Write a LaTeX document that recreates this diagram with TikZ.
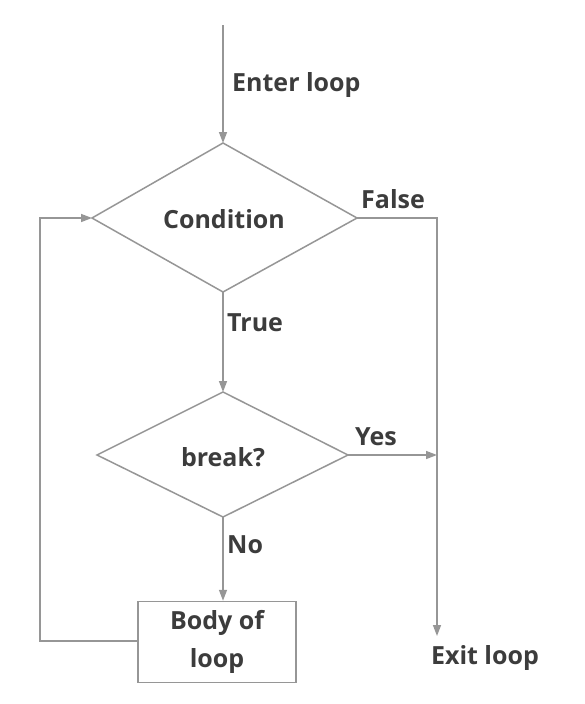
\documentclass[tikz,border=0pt]{standalone}
\usepackage{fontspec}
\setmainfont{Open Sans}
\usetikzlibrary{arrows.meta,shapes.geometric}
\definecolor{lc}{RGB}{150,150,150}
\definecolor{tc}{RGB}{60,60,60}
\tikzset{
  line/.style={draw=lc, line width=1.5pt},
  arr/.style={line, -{Triangle[length=11pt,width=8pt]}},
  lbl/.style={text=tc, font=\fontsize{25}{30}\selectfont\bfseries, inner sep=0pt},
  boxs/.style={rectangle, draw=lc, line width=1.5pt, minimum width=158pt, minimum height=81pt, text=tc, align=center, font=\fontsize{25}{38}\selectfont\bfseries}
}
\begin{document}
\begin{tikzpicture}[x=1pt,y=-1pt]
\useasboundingbox (0,0) rectangle (584,704);
% shapes
\path[line] (223,143) -- (357,218) -- (223,292) -- (92,218) -- cycle;
\node[lbl] (cond) at (224,219) {Condition};
\coordinate (ct) at (223,143);
\coordinate (cl) at (92,218);
\coordinate (cr) at (357,218);
\coordinate (cb) at (223,292);
\path[line] (223,392) -- (348,455) -- (223,517) -- (97,455) -- cycle;
\node[lbl] (brk) at (223,457) {break?};
\coordinate (bt) at (223,392);
\coordinate (br) at (348,455);
\coordinate (bb) at (223,517);
\node[boxs] (body) at (217,642) {Body of\\loop};
% start
\coordinate (start) at (223,25);
\coordinate (exit) at (437,636);
\coordinate (fcorner) at (437,218);
\coordinate (ymeet) at (437,455);
\coordinate (lb) at (40,641);
\coordinate (lt) at (40,218);
% connectors
\draw[arr] (start) -- (ct);
\draw[arr] (cb) -- (bt);
\draw[arr] (bb) -- (bb |- body.north);
\draw[arr] (cr) -- (fcorner) -- (exit);
\draw[arr] (br) -- (ymeet);
\draw[arr] (body.west |- lb) -- (lb) -- (lt) -- (cl);
% labels
\node[lbl, anchor=west] (enter) at (232,85) {Enter loop};
\node[lbl, anchor=west] (false) at (361,199) {False};
\node[lbl, anchor=west] (true) at (227,323) {True};
\node[lbl, anchor=west] (yes) at (355,437) {Yes};
\node[lbl, anchor=west] (no) at (227,545) {No};
\node[lbl] (exitl) at (485,658) {Exit loop};
\end{tikzpicture}
\end{document}
